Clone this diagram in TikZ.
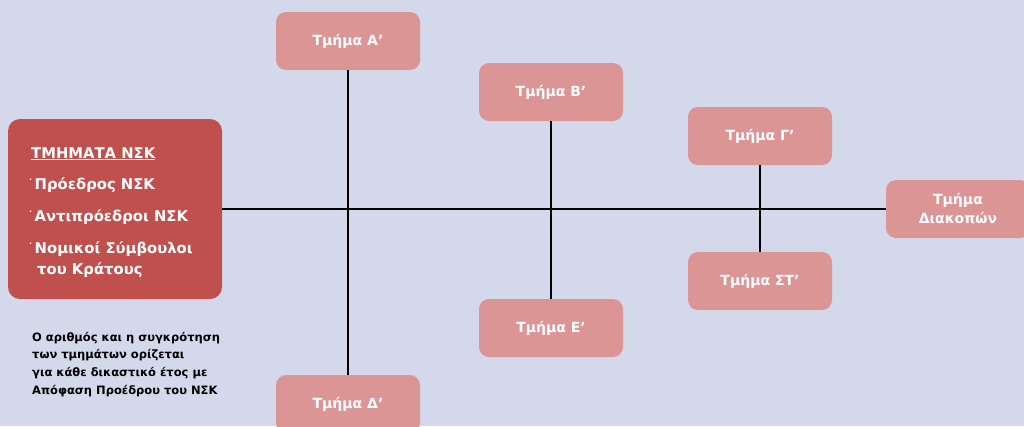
\documentclass[tikz,border=0pt]{standalone}
\usepackage{fontspec}
\setmainfont{DejaVu Sans}[BoldFont={DejaVu Sans Bold}]
\usetikzlibrary{positioning}

\definecolor{bgblue}{RGB}{211,216,235}
\definecolor{nskred}{RGB}{192,80,77}
\definecolor{tmpink}{RGB}{219,149,148}

\tikzset{
  tmbox/.style={fill=tmpink, draw=none, rounded corners=10pt, minimum width=144pt,
    minimum height=58pt, text=white, font=\bfseries\fontsize{14}{19}\selectfont, align=center},
  nskbox/.style={fill=nskred, draw=none, rounded corners=12pt, minimum width=214pt,
    minimum height=180pt},
  nskline/.style={anchor=base west, inner sep=0pt, text=white,
    font=\bfseries\fontsize{14.8}{16}\selectfont},
  noteline/.style={anchor=base west, inner sep=0pt, font=\bfseries\fontsize{11.5}{12}\selectfont},
  link/.style={line width=1.2pt, black}
}
\newcommand{\dotitem}{\raisebox{0.45em}{\fontsize{8}{8}\selectfont ·}\,}

\begin{document}
\begin{tikzpicture}[x=1pt, y=-1pt]
  \fill[bgblue] (0,0) rectangle (1024,426);
  \useasboundingbox (0,0) rectangle (1024,426);

  % main box
  \node[nskbox] (nsk) at (115,209) {};
  \node[nskline] (nskHead) at (31,158) {\underline{ΤΜΗΜΑΤΑ ΝΣΚ}};
  \node[nskline] (nskPres) at (29,189) {\dotitem Πρόεδρος ΝΣΚ};
  \node[nskline] (nskVice) at (29,221) {\dotitem Αντιπρόεδροι ΝΣΚ};
  \node[nskline] (nskAdv) at (29,253) {\dotitem Νομικοί Σύμβουλοι};
  \node[nskline] (nskAdvB) at (37,274) {του Κράτους};

  % departments
  \node[tmbox] (tmA) at (348,41) {Τμήμα Α’};
  \node[tmbox] (tmB) at (551,92) {Τμήμα Β’};
  \node[tmbox] (tmC) at (760,136) {Τμήμα Γ’};
  \node[tmbox] (tmHol) at (958,209) {Τμήμα\\Διακοπών};
  \node[tmbox] (tmF) at (760,281) {Τμήμα ΣΤ’};
  \node[tmbox] (tmE) at (551,328) {Τμήμα Ε’};
  \node[tmbox] (tmD) at (348,404) {Τμήμα Δ’};

  % lines
  \draw[link] (nsk.east) -- (tmHol.west);
  \draw[link] (tmA.south) -- (tmD.north);
  \draw[link] (tmB.south) -- (tmE.north);
  \draw[link] (tmC.south) -- (tmF.north);

  % note
  \node[noteline] (noteA) at (32,341) {Ο αριθμός και η συγκρότηση};
  \node[noteline] (noteB) at (32,358.5) {των τμημάτων ορίζεται};
  \node[noteline] (noteC) at (32,376) {για κάθε δικαστικό έτος με};
  \node[noteline] (noteD) at (32,394) {Απόφαση Προέδρου του ΝΣΚ};
\end{tikzpicture}
\end{document}
